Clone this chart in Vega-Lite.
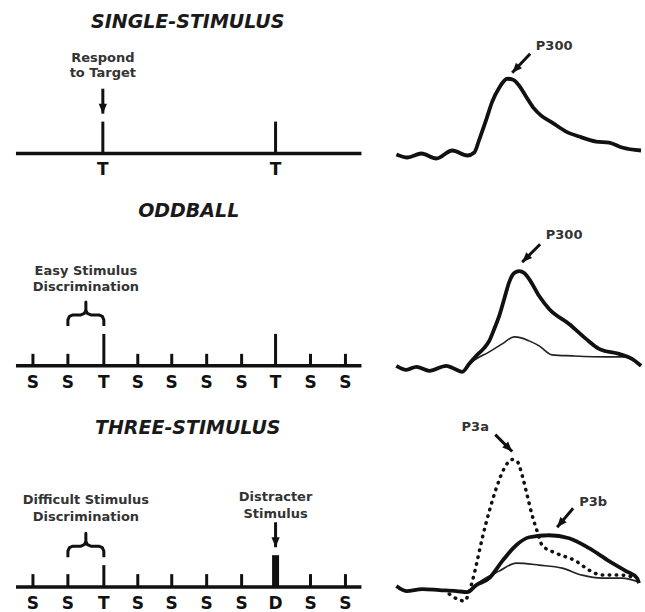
{
  "$schema": "https://vega.github.io/schema/vega-lite/v6.json",
  "width": 645,
  "height": 612,
  "autosize": {"type": "fit", "contains": "padding"},
  "padding": 0,
  "background": "white",
  "config": {"view": {"stroke": null}},
  "datasets": {
    "baselines": [
      {"panel": "single", "x": 16, "x2": 362, "y": 154},
      {"panel": "oddball", "x": 16, "x2": 362, "y": 367},
      {"panel": "three", "x": 16, "x2": 362, "y": 589}
    ],
    "stimuli": [
      {"panel": "single", "x": 103, "stim": "T", "y": 154, "y2": 122},
      {"panel": "single", "x": 276, "stim": "T", "y": 154, "y2": 122},
      {"panel": "oddball", "x": 33, "stim": "S", "y": 367, "y2": 355},
      {"panel": "oddball", "x": 68, "stim": "S", "y": 367, "y2": 355},
      {"panel": "oddball", "x": 104, "stim": "T", "y": 367, "y2": 335},
      {"panel": "oddball", "x": 138, "stim": "S", "y": 367, "y2": 355},
      {"panel": "oddball", "x": 172, "stim": "S", "y": 367, "y2": 355},
      {"panel": "oddball", "x": 207, "stim": "S", "y": 367, "y2": 355},
      {"panel": "oddball", "x": 242, "stim": "S", "y": 367, "y2": 355},
      {"panel": "oddball", "x": 276, "stim": "T", "y": 367, "y2": 335},
      {"panel": "oddball", "x": 311, "stim": "S", "y": 367, "y2": 355},
      {"panel": "oddball", "x": 346, "stim": "S", "y": 367, "y2": 355},
      {"panel": "three", "x": 33, "stim": "S", "y": 589, "y2": 576},
      {"panel": "three", "x": 68, "stim": "S", "y": 589, "y2": 576},
      {"panel": "three", "x": 104, "stim": "T", "y": 589, "y2": 567},
      {"panel": "three", "x": 138, "stim": "S", "y": 589, "y2": 576},
      {"panel": "three", "x": 172, "stim": "S", "y": 589, "y2": 576},
      {"panel": "three", "x": 207, "stim": "S", "y": 589, "y2": 576},
      {"panel": "three", "x": 242, "stim": "S", "y": 589, "y2": 576},
      {"panel": "three", "x": 276, "stim": "D", "y": 589, "y2": 557},
      {"panel": "three", "x": 311, "stim": "S", "y": 589, "y2": 576},
      {"panel": "three", "x": 346, "stim": "S", "y": 589, "y2": 576}
    ],
    "arrows": [
      {"label": "respond", "x": 103, "y": 89, "x2": 103, "y2": 114, "heading": 180},
      {"label": "distracter", "x": 276, "y": 524, "x2": 276, "y2": 549, "heading": 180},
      {"label": "P300 single", "x": 531, "y": 54, "x2": 513, "y2": 73, "heading": 223},
      {"label": "P300 oddball", "x": 541, "y": 245, "x2": 523, "y2": 263, "heading": 225},
      {"label": "P3a", "x": 496, "y": 436, "x2": 513, "y2": 453, "heading": 135},
      {"label": "P3b", "x": 574, "y": 510, "x2": 558, "y2": 529, "heading": 220}
    ],
    "braces": [
      {"brace": "easy", "i": 1, "x": 68, "y": 327},
      {"brace": "easy", "i": 2, "x": 68, "y": 321},
      {"brace": "easy", "i": 3, "x": 69.5, "y": 317.5},
      {"brace": "easy", "i": 4, "x": 73, "y": 316},
      {"brace": "easy", "i": 5, "x": 81, "y": 316},
      {"brace": "easy", "i": 6, "x": 84.5, "y": 314.5},
      {"brace": "easy", "i": 7, "x": 86, "y": 311},
      {"brace": "easy", "i": 8, "x": 86, "y": 303},
      {"brace": "easy", "i": 9, "x": 86, "y": 311},
      {"brace": "easy", "i": 10, "x": 87.5, "y": 314.5},
      {"brace": "easy", "i": 11, "x": 91, "y": 316},
      {"brace": "easy", "i": 12, "x": 99, "y": 316},
      {"brace": "easy", "i": 13, "x": 102.5, "y": 317.5},
      {"brace": "easy", "i": 14, "x": 104, "y": 321},
      {"brace": "easy", "i": 15, "x": 104, "y": 327},
      {"brace": "difficult", "i": 1, "x": 68, "y": 559},
      {"brace": "difficult", "i": 2, "x": 68, "y": 553},
      {"brace": "difficult", "i": 3, "x": 69.5, "y": 549.5},
      {"brace": "difficult", "i": 4, "x": 73, "y": 548},
      {"brace": "difficult", "i": 5, "x": 81, "y": 548},
      {"brace": "difficult", "i": 6, "x": 84.5, "y": 546.5},
      {"brace": "difficult", "i": 7, "x": 86, "y": 543},
      {"brace": "difficult", "i": 8, "x": 86, "y": 535},
      {"brace": "difficult", "i": 9, "x": 86, "y": 543},
      {"brace": "difficult", "i": 10, "x": 87.5, "y": 546.5},
      {"brace": "difficult", "i": 11, "x": 91, "y": 548},
      {"brace": "difficult", "i": 12, "x": 99, "y": 548},
      {"brace": "difficult", "i": 13, "x": 102.5, "y": 549.5},
      {"brace": "difficult", "i": 14, "x": 104, "y": 553},
      {"brace": "difficult", "i": 15, "x": 104, "y": 559}
    ],
    "waves": [
      {"panel": "single", "trial": "target", "x": 397, "y": 155},
      {"panel": "single", "trial": "target", "x": 408, "y": 158},
      {"panel": "single", "trial": "target", "x": 422, "y": 154},
      {"panel": "single", "trial": "target", "x": 437, "y": 159},
      {"panel": "single", "trial": "target", "x": 453, "y": 151},
      {"panel": "single", "trial": "target", "x": 468, "y": 156},
      {"panel": "single", "trial": "target", "x": 475, "y": 153},
      {"panel": "single", "trial": "target", "x": 480, "y": 140},
      {"panel": "single", "trial": "target", "x": 487, "y": 120},
      {"panel": "single", "trial": "target", "x": 493, "y": 102},
      {"panel": "single", "trial": "target", "x": 500, "y": 88},
      {"panel": "single", "trial": "target", "x": 508, "y": 79},
      {"panel": "single", "trial": "target", "x": 514, "y": 80},
      {"panel": "single", "trial": "target", "x": 520, "y": 86},
      {"panel": "single", "trial": "target", "x": 527, "y": 97},
      {"panel": "single", "trial": "target", "x": 535, "y": 109},
      {"panel": "single", "trial": "target", "x": 542, "y": 116},
      {"panel": "single", "trial": "target", "x": 553, "y": 123},
      {"panel": "single", "trial": "target", "x": 567, "y": 132},
      {"panel": "single", "trial": "target", "x": 580, "y": 137},
      {"panel": "single", "trial": "target", "x": 597, "y": 142},
      {"panel": "single", "trial": "target", "x": 610, "y": 143},
      {"panel": "single", "trial": "target", "x": 623, "y": 148},
      {"panel": "single", "trial": "target", "x": 642, "y": 151},

      {"panel": "oddball", "trial": "target", "x": 397, "y": 367},
      {"panel": "oddball", "trial": "target", "x": 407, "y": 371},
      {"panel": "oddball", "trial": "target", "x": 417, "y": 368},
      {"panel": "oddball", "trial": "target", "x": 430, "y": 372},
      {"panel": "oddball", "trial": "target", "x": 447, "y": 367},
      {"panel": "oddball", "trial": "target", "x": 455, "y": 370},
      {"panel": "oddball", "trial": "target", "x": 463, "y": 373},
      {"panel": "oddball", "trial": "target", "x": 470, "y": 365},
      {"panel": "oddball", "trial": "target", "x": 477, "y": 357},
      {"panel": "oddball", "trial": "target", "x": 485, "y": 349},
      {"panel": "oddball", "trial": "target", "x": 490, "y": 342},
      {"panel": "oddball", "trial": "target", "x": 495, "y": 330},
      {"panel": "oddball", "trial": "target", "x": 500, "y": 317},
      {"panel": "oddball", "trial": "target", "x": 505, "y": 300},
      {"panel": "oddball", "trial": "target", "x": 510, "y": 283},
      {"panel": "oddball", "trial": "target", "x": 515, "y": 274},
      {"panel": "oddball", "trial": "target", "x": 520, "y": 272},
      {"panel": "oddball", "trial": "target", "x": 525, "y": 274},
      {"panel": "oddball", "trial": "target", "x": 530, "y": 280},
      {"panel": "oddball", "trial": "target", "x": 540, "y": 297},
      {"panel": "oddball", "trial": "target", "x": 550, "y": 310},
      {"panel": "oddball", "trial": "target", "x": 570, "y": 325},
      {"panel": "oddball", "trial": "target", "x": 587, "y": 340},
      {"panel": "oddball", "trial": "target", "x": 600, "y": 350},
      {"panel": "oddball", "trial": "target", "x": 620, "y": 355},
      {"panel": "oddball", "trial": "target", "x": 633, "y": 360},
      {"panel": "oddball", "trial": "target", "x": 642, "y": 367},

      {"panel": "oddball", "trial": "standard", "x": 463, "y": 373},
      {"panel": "oddball", "trial": "standard", "x": 473, "y": 363},
      {"panel": "oddball", "trial": "standard", "x": 490, "y": 353},
      {"panel": "oddball", "trial": "standard", "x": 503, "y": 345},
      {"panel": "oddball", "trial": "standard", "x": 515, "y": 338},
      {"panel": "oddball", "trial": "standard", "x": 522, "y": 339},
      {"panel": "oddball", "trial": "standard", "x": 530, "y": 342},
      {"panel": "oddball", "trial": "standard", "x": 540, "y": 347},
      {"panel": "oddball", "trial": "standard", "x": 553, "y": 356},
      {"panel": "oddball", "trial": "standard", "x": 573, "y": 357},
      {"panel": "oddball", "trial": "standard", "x": 607, "y": 358},
      {"panel": "oddball", "trial": "standard", "x": 623, "y": 358},
      {"panel": "oddball", "trial": "standard", "x": 637, "y": 363},
      {"panel": "oddball", "trial": "standard", "x": 642, "y": 367},

      {"panel": "three", "trial": "target", "x": 397, "y": 588},
      {"panel": "three", "trial": "target", "x": 407, "y": 593},
      {"panel": "three", "trial": "target", "x": 423, "y": 591},
      {"panel": "three", "trial": "target", "x": 440, "y": 592},
      {"panel": "three", "trial": "target", "x": 457, "y": 593},
      {"panel": "three", "trial": "target", "x": 468, "y": 594},
      {"panel": "three", "trial": "target", "x": 477, "y": 587},
      {"panel": "three", "trial": "target", "x": 490, "y": 580},
      {"panel": "three", "trial": "target", "x": 503, "y": 563},
      {"panel": "three", "trial": "target", "x": 517, "y": 547},
      {"panel": "three", "trial": "target", "x": 530, "y": 539},
      {"panel": "three", "trial": "target", "x": 550, "y": 537},
      {"panel": "three", "trial": "target", "x": 570, "y": 540},
      {"panel": "three", "trial": "target", "x": 590, "y": 550},
      {"panel": "three", "trial": "target", "x": 610, "y": 563},
      {"panel": "three", "trial": "target", "x": 627, "y": 573},
      {"panel": "three", "trial": "target", "x": 638, "y": 580},
      {"panel": "three", "trial": "target", "x": 640, "y": 585},

      {"panel": "three", "trial": "standard", "x": 468, "y": 594},
      {"panel": "three", "trial": "standard", "x": 483, "y": 582},
      {"panel": "three", "trial": "standard", "x": 500, "y": 573},
      {"panel": "three", "trial": "standard", "x": 517, "y": 565},
      {"panel": "three", "trial": "standard", "x": 540, "y": 567},
      {"panel": "three", "trial": "standard", "x": 563, "y": 570},
      {"panel": "three", "trial": "standard", "x": 583, "y": 577},
      {"panel": "three", "trial": "standard", "x": 603, "y": 580},
      {"panel": "three", "trial": "standard", "x": 623, "y": 580},
      {"panel": "three", "trial": "standard", "x": 640, "y": 584},

      {"panel": "three", "trial": "distracter", "x": 450, "y": 596},
      {"panel": "three", "trial": "distracter", "x": 458, "y": 601},
      {"panel": "three", "trial": "distracter", "x": 465, "y": 603},
      {"panel": "three", "trial": "distracter", "x": 472, "y": 587},
      {"panel": "three", "trial": "distracter", "x": 477, "y": 567},
      {"panel": "three", "trial": "distracter", "x": 483, "y": 540},
      {"panel": "three", "trial": "distracter", "x": 490, "y": 513},
      {"panel": "three", "trial": "distracter", "x": 497, "y": 490},
      {"panel": "three", "trial": "distracter", "x": 505, "y": 470},
      {"panel": "three", "trial": "distracter", "x": 513, "y": 461},
      {"panel": "three", "trial": "distracter", "x": 518, "y": 463},
      {"panel": "three", "trial": "distracter", "x": 523, "y": 477},
      {"panel": "three", "trial": "distracter", "x": 528, "y": 497},
      {"panel": "three", "trial": "distracter", "x": 533, "y": 517},
      {"panel": "three", "trial": "distracter", "x": 538, "y": 533},
      {"panel": "three", "trial": "distracter", "x": 543, "y": 547},
      {"panel": "three", "trial": "distracter", "x": 557, "y": 555},
      {"panel": "three", "trial": "distracter", "x": 577, "y": 563},
      {"panel": "three", "trial": "distracter", "x": 590, "y": 572},
      {"panel": "three", "trial": "distracter", "x": 603, "y": 577},
      {"panel": "three", "trial": "distracter", "x": 623, "y": 577},
      {"panel": "three", "trial": "distracter", "x": 637, "y": 580}
    ],
    "texts": [
      {"kind": "title", "text": "SINGLE-STIMULUS", "x": 188, "y": 28},
      {"kind": "title", "text": "ODDBALL", "x": 189, "y": 218},
      {"kind": "title", "text": "THREE-STIMULUS", "x": 188, "y": 435},
      {"kind": "note", "text": "Respond", "x": 103, "y": 62},
      {"kind": "note", "text": "to Target", "x": 103, "y": 77},
      {"kind": "note", "text": "Easy Stimulus", "x": 86, "y": 276},
      {"kind": "note", "text": "Discrimination", "x": 86, "y": 292},
      {"kind": "note", "text": "Difficult Stimulus", "x": 86, "y": 506},
      {"kind": "note", "text": "Discrimination", "x": 86, "y": 523},
      {"kind": "note", "text": "Distracter", "x": 276, "y": 503},
      {"kind": "note", "text": "Stimulus", "x": 276, "y": 520},
      {"kind": "peak", "text": "P300", "x": 555, "y": 50},
      {"kind": "peak", "text": "P300", "x": 565, "y": 240},
      {"kind": "peak", "text": "P3a", "x": 476, "y": 432},
      {"kind": "peak", "text": "P3b", "x": 594, "y": 508}
    ]
  },
  "encoding": {
    "x": {"field": "x", "type": "quantitative", "scale": {"domain": [0, 645], "nice": false, "zero": false}, "axis": null},
    "y": {"field": "y", "type": "quantitative", "scale": {"domain": [612, 0], "nice": false, "zero": false}, "axis": null}
  },
  "layer": [
    {
      "data": {"name": "baselines"},
      "mark": {"type": "rule", "color": "#111", "strokeWidth": 3.5},
      "encoding": {"x2": {"field": "x2"}}
    },
    {
      "data": {"name": "stimuli"},
      "transform": [{"filter": "datum.stim != 'D'"}],
      "mark": {"type": "rule", "color": "#111", "strokeWidth": 3},
      "encoding": {"y2": {"field": "y2"}}
    },
    {
      "data": {"name": "stimuli"},
      "transform": [{"filter": "datum.stim == 'D'"}],
      "mark": {"type": "rule", "color": "#111", "strokeWidth": 7},
      "encoding": {"y2": {"field": "y2"}}
    },
    {
      "data": {"name": "stimuli"},
      "mark": {"type": "text", "font": "DejaVu Sans", "fontWeight": "bold", "fontSize": 17, "color": "#111", "align": "center", "baseline": "alphabetic", "dy": 22},
      "encoding": {"text": {"field": "stim"}}
    },
    {
      "data": {"name": "braces"},
      "mark": {"type": "line", "color": "#111", "strokeWidth": 3, "strokeJoin": "round"},
      "encoding": {"detail": {"field": "brace"}, "order": {"field": "i", "type": "quantitative"}}
    },
    {
      "data": {"name": "arrows"},
      "mark": {"type": "rule", "color": "#111", "strokeWidth": 3},
      "encoding": {"x2": {"field": "x2"}, "y2": {"field": "y2"}}
    },
    {
      "data": {"name": "arrows"},
      "mark": {"type": "point", "filled": true, "color": "#111", "opacity": 1, "size": 121, "shape": "M0,0L0.75,1.8L-0.75,1.8Z"},
      "encoding": {
        "x": {"field": "x2", "type": "quantitative", "scale": {"domain": [0, 645], "nice": false, "zero": false}, "axis": null},
        "y": {"field": "y2", "type": "quantitative", "scale": {"domain": [612, 0], "nice": false, "zero": false}, "axis": null},
        "angle": {"field": "heading", "type": "quantitative", "scale": null}
      }
    },
    {
      "data": {"name": "waves"},
      "transform": [{"filter": "datum.trial == 'standard'"}],
      "mark": {"type": "line", "color": "#222", "strokeWidth": 1.6, "interpolate": "monotone"},
      "encoding": {"detail": {"field": "panel"}}
    },
    {
      "data": {"name": "waves"},
      "transform": [{"filter": "datum.trial == 'target'"}],
      "mark": {"type": "line", "color": "#111", "strokeWidth": 3.8, "interpolate": "monotone", "strokeJoin": "round"},
      "encoding": {"detail": {"field": "panel"}}
    },
    {
      "data": {"name": "waves"},
      "transform": [{"filter": "datum.trial == 'distracter'"}],
      "mark": {"type": "line", "color": "#111", "strokeWidth": 3.5, "interpolate": "monotone", "strokeDash": [0.5, 6.5], "strokeCap": "round"},
      "encoding": {"detail": {"field": "panel"}}
    },
    {
      "data": {"name": "texts"},
      "transform": [{"filter": "datum.kind == 'title'"}],
      "mark": {"type": "text", "font": "DejaVu Sans", "fontWeight": "bold", "fontStyle": "italic", "fontSize": 19, "color": "#1a1a1a", "align": "center", "baseline": "alphabetic"},
      "encoding": {"text": {"field": "text"}}
    },
    {
      "data": {"name": "texts"},
      "transform": [{"filter": "datum.kind != 'title'"}],
      "mark": {"type": "text", "font": "DejaVu Sans", "fontWeight": "bold", "fontSize": 13, "color": "#333", "align": "center", "baseline": "alphabetic"},
      "encoding": {"text": {"field": "text"}}
    }
  ]
}
